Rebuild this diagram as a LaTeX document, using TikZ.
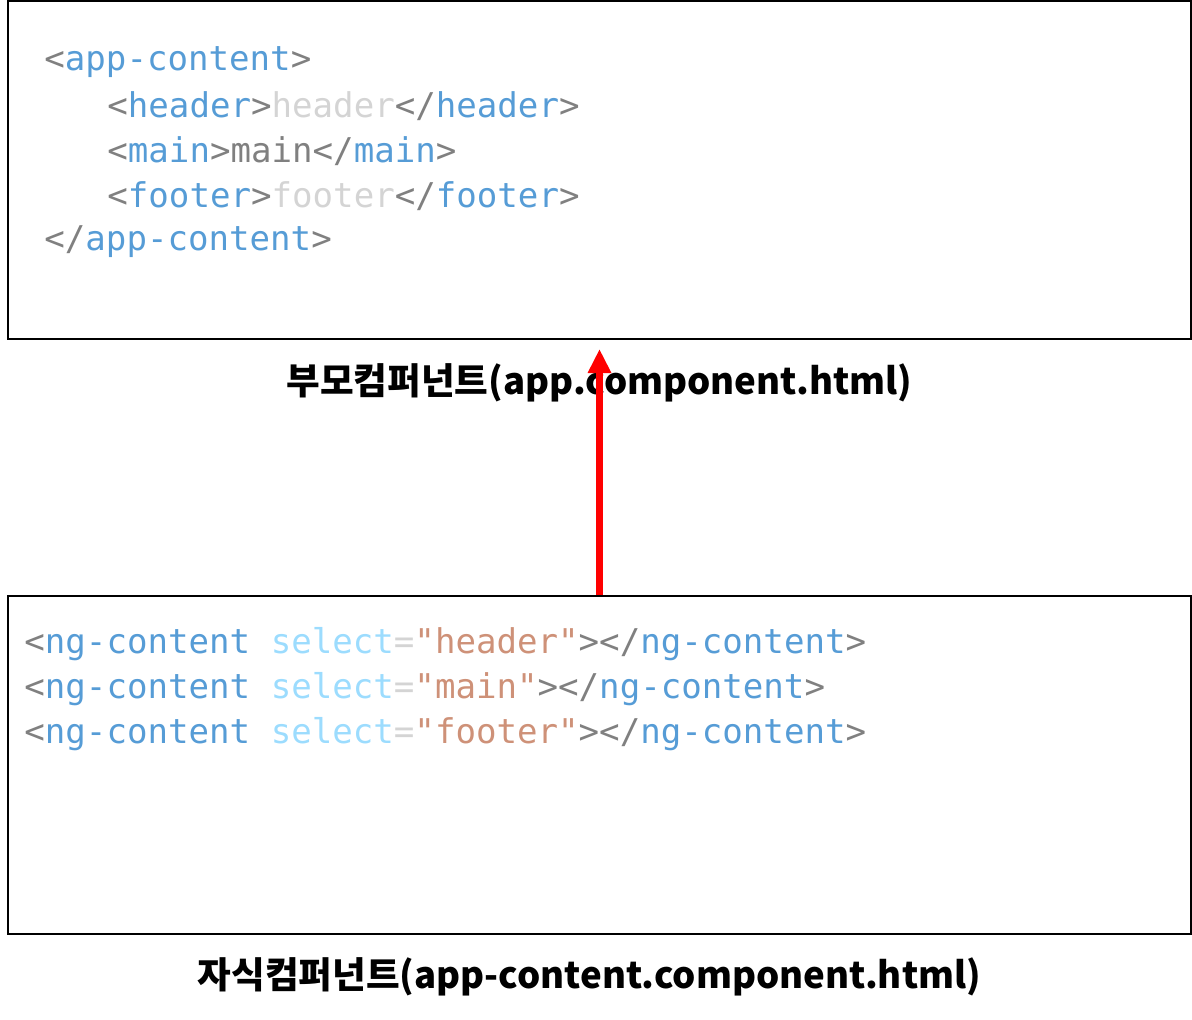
\documentclass[tikz,border=0pt]{standalone}
\usepackage{fontspec}
\setmonofont{DejaVu Sans Mono}
\newfontfamily\krfont{Noto Sans CJK KR}
\usepackage{xcolor}
\usetikzlibrary{arrows.meta,positioning}

\definecolor{tagblue}{HTML}{569CD6}
\definecolor{punct}{HTML}{808080}
\definecolor{lighttxt}{HTML}{D4D4D4}
\definecolor{attrblue}{HTML}{9CDCFE}
\definecolor{strval}{HTML}{CE9178}

\newcommand{\pn}[1]{\textcolor{punct}{#1}}
\newcommand{\tgn}[1]{\textcolor{tagblue}{#1}}
\newcommand{\ltx}[1]{\textcolor{lighttxt}{#1}}
\newcommand{\atn}[1]{\textcolor{attrblue}{#1}}
\newcommand{\sv}[1]{\textcolor{strval}{#1}}

\begin{document}
\begin{tikzpicture}[
    x=0.5pt, y=-0.5pt,
    box/.style={draw, line width=1pt, minimum width=591.5pt, minimum height=169pt, inner sep=0pt},
    code/.style={anchor=west, inner sep=0pt, font=\ttfamily\fontsize{17.05}{20}\selectfont},
    caption/.style={font=\krfont\bfseries\fontsize{18.3}{22}\selectfont, inner sep=0pt},
    arr/.style={-{Triangle[length=12pt, width=11pt]}, line width=3.5pt, red, shorten >=4.5pt},
    node distance=11.5pt
]
\useasboundingbox (0,0) rectangle (1192,1019);

\node[box] (parent) at (599.5,170) {};
\node[box] (child) at (599.5,764.5) {};
\node[caption, below=of parent.south] (parentcap) {부모컴퍼넌트(app.component.html)};
\node[caption, below=of child.south, xshift=-5pt] (childcap) {자식컴퍼넌트(app-content.component.html)};

% parent template
\node[code] (p1) at (44,62.5) {\pn{<}\tgn{app-content}\pn{>}};
\node[code] (p2) at (107,106.5) {\pn{<}\tgn{header}\pn{>}\ltx{header}\pn{</}\tgn{header}\pn{>}};
\node[code] (p3) at (107,151.5) {\pn{<}\tgn{main}\pn{>}\pn{main}\pn{</}\tgn{main}\pn{>}};
\node[code] (p4) at (107,196.5) {\pn{<}\tgn{footer}\pn{>}\ltx{footer}\pn{</}\tgn{footer}\pn{>}};
\node[code] (p5) at (44,241.5) {\pn{</}\tgn{app-content}\pn{>}};

% child template
\node[code] (c1) at (24,644.5) {\pn{<}\tgn{ng-content} \atn{select}\ltx{=}\sv{"header"}\pn{></}\tgn{ng-content}\pn{>}};
\node[code] (c2) at (24,689.5) {\pn{<}\tgn{ng-content} \atn{select}\ltx{=}\sv{"main"}\pn{></}\tgn{ng-content}\pn{>}};
\node[code] (c3) at (24,734.5) {\pn{<}\tgn{ng-content} \atn{select}\ltx{=}\sv{"footer"}\pn{></}\tgn{ng-content}\pn{>}};

\draw[arr] (child.north) -- (parent.south);
\end{tikzpicture}
\end{document}
